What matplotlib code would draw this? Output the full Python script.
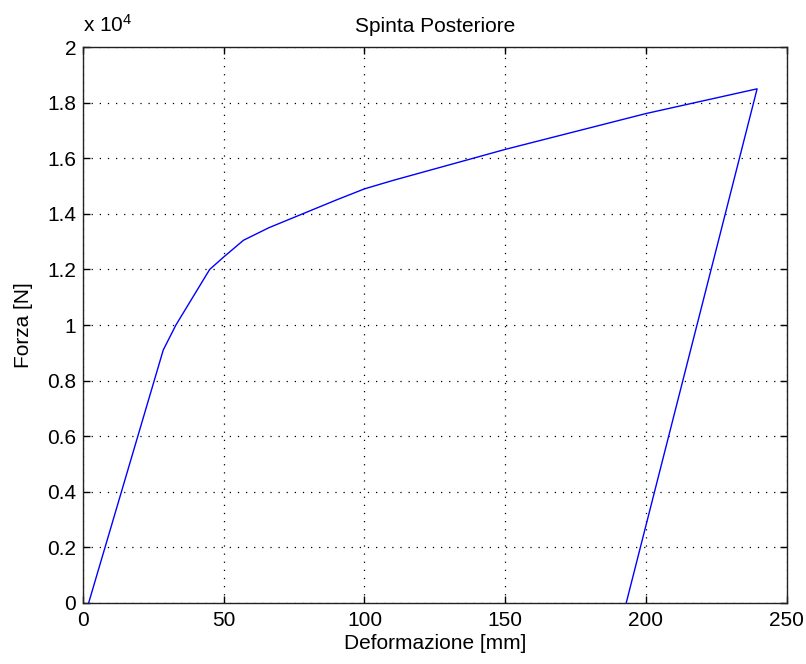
import matplotlib
matplotlib.use("Agg")
import matplotlib.pyplot as plt
import numpy as np

plt.rcParams['font.family'] = ['Liberation Sans', 'DejaVu Sans']
plt.rcParams['mathtext.fontset'] = 'custom'
plt.rcParams['mathtext.rm'] = 'Liberation Sans'
plt.rcParams['mathtext.it'] = 'Liberation Sans'

# deformazione [mm] e forza [N]
deformazione = [2, 28.5, 33, 39, 45, 50, 57, 66, 78, 90, 100, 110, 150, 200, 239.5, 193]
forza = [0, 9100, 10000, 11000, 12000, 12450, 13050, 13500, 14000, 14500, 14900,
         15200, 16320, 17610, 18500, 0]

x_ticks = [0, 50, 100, 150, 200, 250]
y_ticks = [0, 2000, 4000, 6000, 8000, 10000, 12000, 14000, 16000, 18000, 20000]

fs = 15

fig = plt.figure(figsize=(8.06, 6.64), dpi=100)
ax = fig.add_axes([0.103, 0.092, 0.873, 0.837])

ax.plot(deformazione, forza, color=(0, 0, 1), linewidth=1.0)

ax.set_xlim(0, 250)
ax.set_ylim(0, 20000)
ax.set_xticks(x_ticks)
ax.set_yticks(y_ticks)
ax.set_yticklabels(['%g' % (v / 1e4) for v in y_ticks])
ax.tick_params(direction='in', length=5, width=1, labelsize=fs,
               top=True, right=True)
ax.tick_params(axis='x', pad=6)
ax.tick_params(axis='y', pad=5)
ax.grid(True, color='black', linestyle=(0, (1, 5.5)), linewidth=0.9)
for s in ax.spines.values():
    s.set_linewidth(1.0)
    s.set_color('#222222')

ax.set_title('Spinta Posteriore', fontsize=fs, pad=11)
ax.set_xlabel('Deformazione [mm]', fontsize=fs, labelpad=3)
ax.set_ylabel('Forza [N]', fontsize=fs, labelpad=10)
ax.text(0.0, 1.02, r'x 10$^4$', transform=ax.transAxes, fontsize=fs,
        ha='left', va='bottom')

fig.savefig('out.png', dpi=100, facecolor='white')
